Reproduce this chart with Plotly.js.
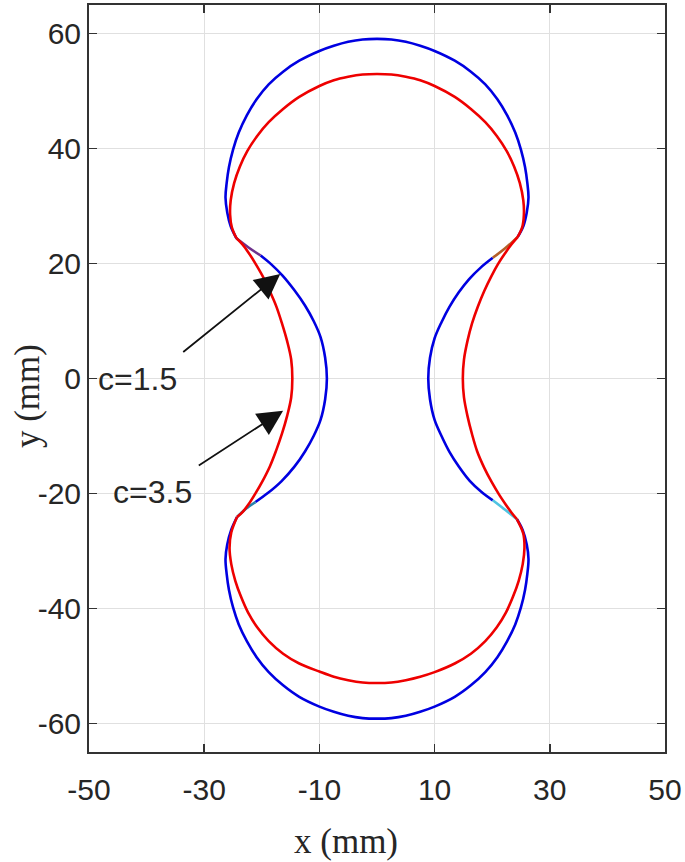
<!DOCTYPE html>
<html>
<head>
<meta charset="utf-8">
<script src="https://cdn.plot.ly/plotly-3.0.1.min.js"></script>
<style>
  html, body { margin: 0; padding: 0; background: #fff; }
  #graph { width: 685px; height: 862px; }
</style>
</head>
<body>
<div id="graph"></div>
<script>
// tick values
var xTicks = [-50, -30, -10, 10, 30, 50];
var yTicks = [-60, -40, -20, 0, 20, 40, 60];

// c = 1.5 (blue) curve, read piece by piece
var blueTopX = [-24.4, -25.4, -26.0, -26.3, -26.1, -25.7, -25.0, -24.0, -22.6, -20.9, -18.8, -16.3, -13.5, -10.0, -7.5, -5.0, -2.5, 0, 2.5, 5.0, 7.5, 10.0, 13.5, 16.3, 18.8, 20.9, 22.6, 24.0, 25.0, 25.7, 26.1, 26.3, 26.0, 25.4, 24.4];
var blueTopY = [24.4, 26.5, 28.9, 31.5, 34.0, 36.8, 39.8, 42.8, 45.8, 48.6, 51.2, 53.4, 55.3, 57.0, 57.9, 58.6, 59.0, 59.1, 59.0, 58.6, 57.9, 57.0, 55.3, 53.4, 51.2, 48.6, 45.8, 42.8, 39.8, 36.8, 34.0, 31.5, 28.9, 26.5, 24.6];
var blueRightX = [20.1, 18.0, 16.0, 14.2, 12.6, 11.2, 10.0, 9.2, 8.9, 9.2, 10.0, 11.2, 12.6, 14.2, 16.1, 18.1, 20.1];
var blueRightY = [21.0, 19.3, 17.3, 15.0, 12.5, 9.8, 7.0, 3.6, 0, -3.6, -7.2, -10.0, -12.8, -15.3, -17.8, -19.7, -21.2];
var blueBottomX = [24.3, 25.3, 26.0, 26.3, 26.1, 25.7, 25.0, 24.0, 22.6, 20.9, 18.8, 16.3, 13.5, 10.0, 7.5, 5.0, 2.5, 0, -2.5, -5.0, -7.5, -10.0, -13.5, -16.3, -18.8, -20.9, -22.6, -24.0, -25.0, -25.7, -26.1, -26.3, -26.0, -25.3, -24.3];
var blueBottomY = [-24.5, -26.4, -28.9, -31.4, -34.0, -36.8, -39.8, -42.8, -45.7, -48.5, -51.1, -53.4, -55.4, -57.1, -58.0, -58.7, -59.1, -59.2, -59.1, -58.7, -58.0, -57.1, -55.4, -53.4, -51.1, -48.5, -45.7, -42.8, -39.8, -36.8, -34.0, -31.4, -28.9, -26.3, -24.1];
var blueLeftX = [-21.1, -18.9, -16.6, -14.3, -12.5, -11.0, -9.8, -9.0, -8.7, -9.0, -9.8, -11.0, -12.5, -14.3, -16.4, -18.4, -20.2];
var blueLeftY = [-21.5, -19.9, -17.9, -15.3, -12.7, -10.0, -7.2, -3.6, 0, 3.6, 7.2, 10.0, 12.7, 15.3, 17.9, 19.9, 21.4];

// short joins between blue arcs (drawn in other colours)
var joinTRX = [24.4, 22.3, 20.1];
var joinTRY = [24.6, 22.7, 21.0];
var joinBRX = [20.1, 22.3, 24.3];
var joinBRY = [-21.2, -22.9, -24.5];
var joinBLX = [-24.3, -22.8, -21.1];
var joinBLY = [-24.1, -22.7, -21.5];
var joinTLX = [-20.2, -22.3, -24.4];
var joinTLY = [21.4, 22.8, 24.4];

// c = 3.5 (red) curve
var redTopX = [-24.4, -25.2, -25.5, -25.4, -24.8, -23.8, -22.5, -20.8, -18.8, -16.3, -13.5, -10.0, -7.5, -5.0, -2.5, 0, 2.5, 5.0, 7.5, 10.0, 13.5, 16.3, 18.8, 20.8, 22.5, 23.8, 24.8, 25.4, 25.5, 25.2, 24.4];
var redTopY = [24.4, 26.3, 28.5, 31.0, 34.0, 36.9, 39.6, 42.2, 44.6, 46.9, 49.0, 50.9, 51.9, 52.5, 52.9, 53.0, 52.9, 52.5, 51.9, 50.9, 49.0, 46.9, 44.6, 42.2, 39.6, 36.9, 34.0, 31.0, 28.5, 26.3, 24.6];
var redRightX = [24.4, 23.4, 22.3, 21.0, 19.8, 18.6, 17.5, 16.5, 15.7, 15.1, 14.9, 15.1, 15.7, 16.5, 17.4, 18.6, 19.9, 21.2, 22.4, 23.4, 24.3];
var redRightY = [24.6, 23.4, 21.9, 19.9, 17.7, 15.2, 12.5, 9.6, 6.5, 3.3, 0, -3.3, -6.5, -9.7, -12.7, -15.5, -18.0, -20.2, -22.0, -23.4, -24.5];
var redBottomX = [24.3, 25.4, 25.6, 25.3, 24.6, 23.6, 22.4, 20.8, 18.8, 16.3, 13.5, 10.0, 7.5, 5.0, 2.5, 0, -2.5, -5.0, -7.5, -10.0, -13.5, -16.3, -18.8, -20.8, -22.4, -23.6, -24.6, -25.3, -25.6, -25.3, -24.3];
var redBottomY = [-24.5, -27.0, -29.5, -32.3, -35.2, -38.0, -40.7, -43.3, -45.7, -47.9, -49.6, -51.1, -51.9, -52.5, -52.9, -53.0, -52.9, -52.5, -51.9, -51.0, -49.6, -47.9, -45.7, -43.3, -40.7, -38.0, -35.2, -32.3, -29.5, -26.8, -24.1];
var redLeftX = [-24.3, -23.3, -22.3, -21.1, -19.9, -18.6, -17.5, -16.5, -15.6, -14.9, -14.7, -14.9, -15.6, -16.5, -17.5, -18.7, -19.9, -21.1, -22.3, -23.4, -24.4];
var redLeftY = [-24.1, -23.2, -21.9, -20.0, -17.9, -15.3, -12.5, -9.6, -6.5, -3.3, 0, 3.3, 6.5, 9.6, 12.6, 15.4, 17.9, 20.0, 21.9, 23.4, 24.4];

var blue = 'rgb(0, 0, 225)';
var red = 'rgb(238, 0, 0)';

function seg(x, y, color) {
	return {
		x: x,
		y: y,
		mode: 'lines',
		type: 'scatter',
		line: { color: color, width: 2.6, shape: 'spline', smoothing: 1 },
		showlegend: false,
		hoverinfo: 'skip'
	};
}

var data = [
	seg(blueTopX, blueTopY, blue),
	seg(blueRightX, blueRightY, blue),
	seg(blueBottomX, blueBottomY, blue),
	seg(blueLeftX, blueLeftY, blue),
	seg(joinTRX, joinTRY, 'rgb(180, 95, 40)'),
	seg(joinBRX, joinBRY, 'rgb(80, 195, 225)'),
	seg(joinBLX, joinBLY, 'rgb(40, 130, 170)'),
	seg(joinTLX, joinTLY, 'rgb(110, 50, 140)'),
	seg(redTopX, redTopY, red),
	seg(redRightX, redRightY, red),
	seg(redBottomX, redBottomY, red),
	seg(redLeftX, redLeftY, red)
];

var tickFont = { family: 'Liberation Sans, Arial, sans-serif', size: 30, color: '#262626' };
var labelFont = { family: 'Liberation Sans, Arial, sans-serif', size: 32, color: '#262626' };
var titleFont = { family: 'Liberation Serif, Times New Roman, serif', size: 35, color: '#262626' };

var layout = {
	width: 685,
	height: 862,
	margin: { l: 89, r: 20, t: 5, b: 110 },
	paper_bgcolor: '#fff',
	plot_bgcolor: '#fff',
	xaxis: {
		range: [-50, 50],
		tickvals: xTicks,
		ticktext: xTicks.map(String),
		tickfont: tickFont,
		ticklabelstandoff: 10,
		ticks: 'inside',
		ticklen: 8,
		tickwidth: 1.5,
		tickcolor: '#333',
		showline: true,
		linecolor: '#333',
		linewidth: 2,
		mirror: 'ticks',
		showgrid: true,
		gridcolor: '#e0e0e0',
		gridwidth: 1,
		zeroline: false
	},
	yaxis: {
		range: [-65, 65],
		tickvals: yTicks,
		ticktext: yTicks.map(String),
		tickfont: tickFont,
		ticks: 'inside',
		ticklen: 8,
		tickwidth: 1.5,
		tickcolor: '#333',
		showline: true,
		linecolor: '#333',
		linewidth: 2,
		mirror: 'ticks',
		showgrid: true,
		gridcolor: '#e0e0e0',
		gridwidth: 1,
		zeroline: false
	},
	annotations: [
		{ xref: 'paper', yref: 'paper', x: 0.446, y: -0.12, xanchor: 'center', yanchor: 'middle',
		  text: 'x (mm)', showarrow: false, font: titleFont },
		{ xref: 'paper', yref: 'paper', x: -0.107, y: 0.477, xanchor: 'center', yanchor: 'middle',
		  text: 'y (mm)', textangle: -90, showarrow: false, font: titleFont },
		{ x: -48.7, y: 0, xanchor: 'left', yanchor: 'middle', text: 'c=1.5', showarrow: false, font: labelFont },
		{ x: -46.2, y: -19.8, xanchor: 'left', yanchor: 'middle', text: 'c=3.5', showarrow: false, font: labelFont },
		{ x: -16.8, y: 18.2, ax: -33.9, ay: 4.4, axref: 'x', ayref: 'y', text: '', showarrow: true,
		  arrowhead: 2, arrowsize: 2.8, arrowwidth: 1.8, arrowcolor: '#111', standoff: 0 },
		{ x: -16.3, y: -5.6, ax: -31.2, ay: -15.3, axref: 'x', ayref: 'y', text: '', showarrow: true,
		  arrowhead: 2, arrowsize: 2.8, arrowwidth: 1.8, arrowcolor: '#111', standoff: 0 }
	]
};

Plotly.newPlot('graph', data, layout, { staticPlot: true });
</script>
</body>
</html>
